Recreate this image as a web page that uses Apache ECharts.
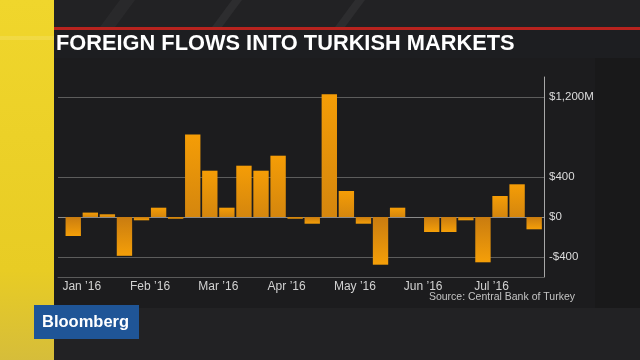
<!DOCTYPE html>
<html>
<head>
<meta charset="utf-8">
<script src="https://cdn.jsdelivr.net/npm/echarts@6/dist/echarts.min.js"></script>
<style>html,body{margin:0;padding:0;background:#212123;}#c{width:640px;height:360px;}</style>
</head>
<body>
<div id="c"></div>
<script>
// ---- data ----
var weeks = ['2015-12-25','2016-01-01','2016-01-08','2016-01-15','2016-01-22','2016-01-29','2016-02-05','2016-02-12','2016-02-19','2016-02-26','2016-03-04','2016-03-11','2016-03-18','2016-03-25','2016-04-01','2016-04-08','2016-04-15','2016-04-22','2016-04-29','2016-05-06','2016-05-13','2016-05-20','2016-05-27','2016-06-03','2016-06-10','2016-06-17','2016-06-24','2016-07-01'];
var flows = [-190, 44, 27, -388, -33, 93, -17, 824, 463, 93, 513, 463, 613, -17, -67, 1227, 260, -67, -477, 93, 0, -150, -150, -33, -453, 210, 327, -123];
var monthLabels = ['Jan \u201916','Feb \u201916','Mar \u201916','Apr \u201916','May \u201916','Jun \u201916','Jul \u201916'];
var monthBoundaryIndex = [1, 5, 9, 13, 17, 21, 25];
var yTickValues = [-400, 0, 400, 1200];
var yTickLabels = ['-$400', '$0', '$400', '$1,200M'];
var yMin = -600, yMax = 1400, yStep = 200;

// boundary labels (weeks.length + 1 boundaries)
var boundaries = [];
for (var i = 0; i <= weeks.length; i++) boundaries.push('');
monthBoundaryIndex.forEach(function (b, k) { boundaries[b] = monthLabels[k]; });

// split line colors per tick
var splitColors = [];
for (var v = yMin; v <= yMax; v += yStep) {
  var idx = yTickValues.indexOf(v);
  splitColors.push(idx < 0 ? 'rgba(0,0,0,0)' : (v === 0 ? '#8a8a8a' : '#5c5c5c'));
}

var chart = echarts.init(document.getElementById('c'), null, {renderer: 'canvas'});
var option = {
  animation: false,
  backgroundColor: '#212123',
  graphic: [
    {type: 'rect', z: -10, shape: {x: 0, y: 0, width: 640, height: 360}, style: {fill: '#222224'}},
    {type: 'polygon', z: -9, shape: {points: [[120,0],[135,0],[115,27],[100,27]]}, style: {fill: 'rgba(255,255,255,0.035)'}},
    {type: 'polygon', z: -9, shape: {points: [[232,0],[242,0],[222,27],[212,27]]}, style: {fill: 'rgba(255,255,255,0.05)'}},
    {type: 'polygon', z: -9, shape: {points: [[355,0],[365,0],[345,27],[335,27]]}, style: {fill: 'rgba(255,255,255,0.05)'}},
    {type: 'rect', z: -8, shape: {x: 0, y: 0, width: 54, height: 360},
      style: {fill: new echarts.graphic.LinearGradient(0, 0, 0, 1, [
        {offset: 0, color: '#f0d62c'}, {offset: 0.75, color: '#e8cc24'}, {offset: 1, color: '#d6bd3a'}])}},
    {type: 'rect', z: -8, shape: {x: 0, y: 36, width: 54, height: 4}, style: {fill: 'rgba(255,255,255,0.12)'}},
    {type: 'rect', z: -7, shape: {x: 54, y: 27, width: 586, height: 3}, style: {fill: '#b8231e'}},
    {type: 'rect', z: -7, shape: {x: 54, y: 30, width: 586, height: 28}, style: {fill: '#1d1e21'}},
    {type: 'rect', z: -7, shape: {x: 54, y: 58, width: 541, height: 250}, style: {fill: '#1c1c1e'}},
    {type: 'rect', z: -7, shape: {x: 595, y: 58, width: 45, height: 250}, style: {fill: '#19191a'}},
    {type: 'rect', z: 20, shape: {x: 34, y: 305, width: 105, height: 34}, style: {fill: '#1f5597'}},
    {type: 'text', z: 21, x: 42, y: 322, style: {text: 'Bloomberg', fill: '#ffffff', font: 'bold 16.5px "Liberation Sans", Arial, sans-serif', verticalAlign: 'middle'}}
  ],
  title: [
    {text: 'FOREIGN FLOWS INTO TURKISH MARKETS', left: 56, top: 33, padding: 0,
      textStyle: {color: '#ffffff', fontSize: 21.8, fontWeight: 'bold', fontFamily: '"Liberation Sans", Arial, sans-serif'}},
    {text: 'Source: Central Bank of Turkey', right: 65, top: 292, padding: 0,
      textStyle: {color: '#c4c4c4', fontSize: 10.5, fontWeight: 'normal', fontFamily: '"Liberation Sans", Arial, sans-serif'}}
  ],
  grid: [
    {left: 58, right: 96, top: 77, height: 200},
    {left: 64.7, right: 97.3, top: 77, height: 200}
  ],
  xAxis: [
    {type: 'category', gridIndex: 0, data: [''], boundaryGap: false,
      axisLine: {show: true, onZero: false, lineStyle: {color: '#5a5a5a', width: 1}},
      axisTick: {show: false}, axisLabel: {show: false}, splitLine: {show: false}},
    {type: 'category', gridIndex: 1, data: weeks,
      axisLine: {show: false, onZero: false}, axisTick: {show: false}, axisLabel: {show: false}},
    {type: 'category', gridIndex: 1, data: boundaries, boundaryGap: false, position: 'bottom',
      axisLine: {show: false, onZero: false}, axisTick: {show: false},
      axisLabel: {interval: 0, color: '#d2d2d2', fontSize: 12, margin: 4, fontFamily: '"Liberation Sans", Arial, sans-serif'}}
  ],
  yAxis: [
    {type: 'value', gridIndex: 0, position: 'right', min: yMin, max: yMax, interval: yStep,
      axisLine: {show: true, onZero: false, lineStyle: {color: '#a8a8a8', width: 1}},
      axisTick: {show: false},
      splitLine: {show: true, lineStyle: {color: splitColors, width: 1}},
      axisLabel: {color: '#dcdcdc', fontSize: 11.5, margin: 5, fontFamily: '"Liberation Sans", Arial, sans-serif',
        formatter: function (val) { var k = yTickValues.indexOf(val); return k < 0 ? '' : yTickLabels[k]; }}},
    {type: 'value', gridIndex: 1, min: yMin, max: yMax, show: false, splitLine: {show: false}}
  ],
  series: [
    {type: 'bar', xAxisIndex: 1, yAxisIndex: 1, data: flows, barWidth: '90%',
      itemStyle: {
        color: function (p) {
          return p.value >= 0
            ? new echarts.graphic.LinearGradient(0, 0, 0, 1, [{offset: 0, color: '#f59d06'}, {offset: 1, color: '#d4860e'}])
            : new echarts.graphic.LinearGradient(0, 0, 0, 1, [{offset: 0, color: '#c97c10'}, {offset: 1, color: '#f59f08'}]);
        }
      }}
  ]
};
chart.setOption(option);
</script>
</body>
</html>
